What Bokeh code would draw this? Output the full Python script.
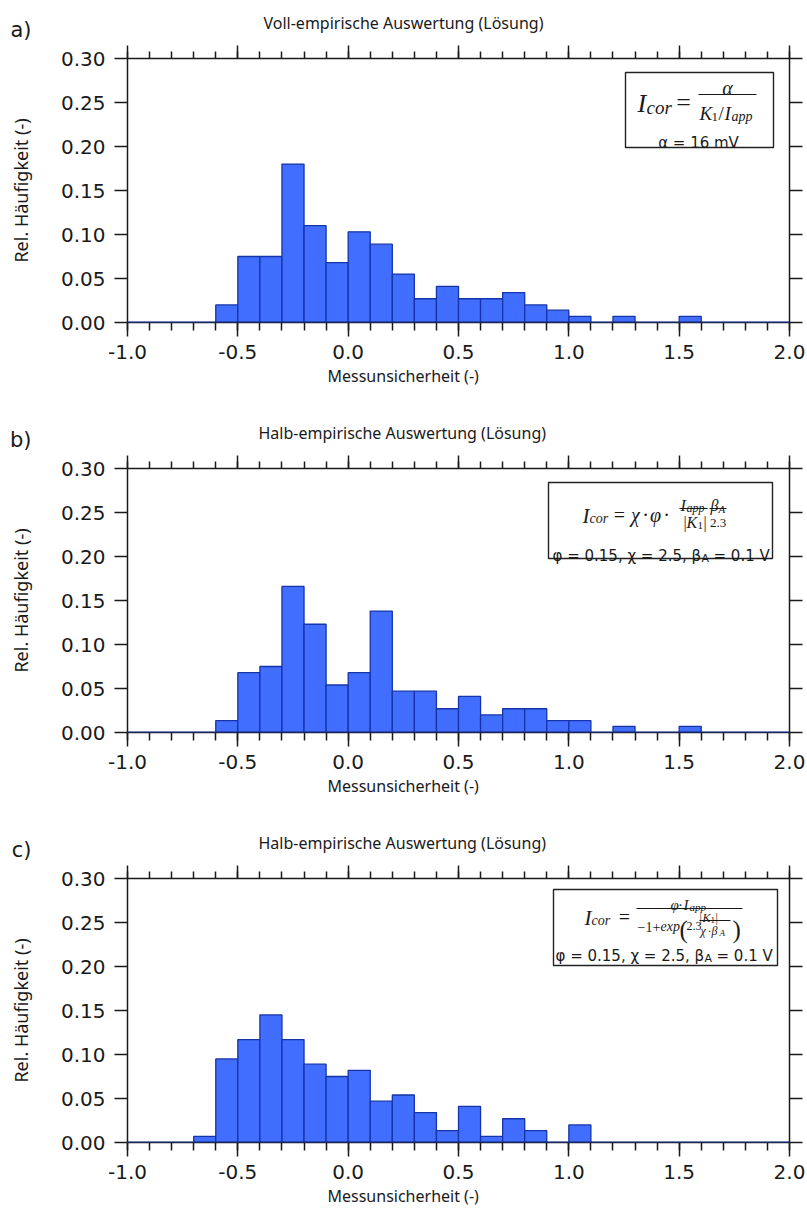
import numpy as np
from bokeh.plotting import figure
from bokeh.layouts import column, row
from bokeh.models import (LinearAxis, FixedTicker, NumeralTickFormatter, Title,
                          CustomJSTickFormatter, Label, BoxAnnotation, Span, Range1d)
from bokeh.embed import file_html
from bokeh.resources import INLINE

# ---- data: relative frequencies per 0.1-wide bin, bins start at -1.0 ----
bin_start = -1.0
bin_width = 0.1
freq_a = [0, 0, 0, 0,
          0.020, 0.075, 0.075, 0.180, 0.110, 0.068, 0.103, 0.089, 0.055, 0.027, 0.041,
          0.027, 0.027, 0.034, 0.020, 0.014, 0.007, 0, 0.007, 0, 0, 0.007,
          0, 0, 0, 0]
freq_b = [0, 0, 0, 0,
          0.0135, 0.068, 0.075, 0.166, 0.123, 0.054, 0.068, 0.138, 0.047, 0.047, 0.027,
          0.041, 0.020, 0.027, 0.027, 0.0135, 0.0135, 0, 0.007, 0, 0, 0.007,
          0, 0, 0, 0]
freq_c = [0, 0, 0,
          0.007, 0.095, 0.117, 0.145, 0.117, 0.089, 0.075, 0.082, 0.047, 0.054, 0.034,
          0.0135, 0.041, 0.007, 0.027, 0.0135, 0, 0.020,
          0, 0, 0, 0, 0, 0, 0, 0, 0]

panel_letters = ["a)", "b)", "c)"]
panel_titles = ["Voll-empirische Auswertung (Lösung)",
                "Halb-empirische Auswertung (Lösung)",
                "Halb-empirische Auswertung (Lösung)"]
x_label = "Messunsicherheit (-)"
y_label = "Rel. Häufigkeit (-)"
x_major = [-1.0, -0.5, 0.0, 0.5, 1.0, 1.5, 2.0]
x_minor = [round(-1.0 + 0.1 * i, 1) for i in range(31)]
y_major = [0.0, 0.05, 0.10, 0.15, 0.20, 0.25, 0.30]

# ---- page geometry (pixels) ----
W = 807
STRIP = 50                      # left strip holding the panel letter and y title
FL, FT, FW, FH = 127, 58, 662, 264
heights = [410, 410, 397]
X0, X1, Y0, Y1 = -1.0, 2.0, 0.0, 0.30
# left offsets (from the frame edge) that centre each text on the page
title_offsets = [136, 131, 131]
xlabel_offset = 200

FILL = "#426eff"
EDGE = "#1434a8"
INK = "#1a1a1a"


def to_x(px):
    return X0 + (px - FL) * (X1 - X0) / FW


def to_y(py):
    return Y1 - (py - FT) * (Y1 - Y0) / FH


def put(p, txt, X, Y, size, font="Liberation Serif", style="normal",
        align="left", baseline="alphabetic"):
    p.add_layout(Label(x=to_x(X), y=to_y(Y), text=txt, text_font=font,
                       text_font_size=f"{size}px", text_font_style=style,
                       text_align=align, text_baseline=baseline, text_color=INK))


def rule(p, xa, xb, y, t=1.2):
    p.add_layout(BoxAnnotation(left=to_x(xa), right=to_x(xb),
                               top=to_y(y - t / 2), bottom=to_y(y + t / 2),
                               fill_color=INK, fill_alpha=1.0, line_color=None))


def frame_box(p, xa, xb, ya, yb):
    p.add_layout(BoxAnnotation(left=to_x(xa), right=to_x(xb), top=to_y(ya), bottom=to_y(yb),
                               fill_color="white", fill_alpha=1.0,
                               line_color="#222222", line_alpha=1.0, line_width=1.4))


def make_strip(letter, height):
    # narrow canvas on the left: panel letter on top, rotated y title centred on the frame
    s = figure(width=STRIP, height=height, title=letter,
               x_range=Range1d(0, 1), y_range=Range1d(0, 1),
               output_backend="svg", toolbar_location=None,
               x_axis_type=None, y_axis_type=None,
               min_border_left=0, min_border_right=0,
               min_border_top=FT, min_border_bottom=height - FT - FH)
    s.outline_line_color = None
    s.grid.visible = False
    s.title.align = "right"
    s.title.offset = 19
    s.title.vertical_align = "top"
    s.title.standoff = 30
    s.title.text_font = "DejaVu Sans"
    s.title.text_font_size = "21px"
    s.title.text_font_style = "normal"
    s.title.text_color = INK
    s.add_layout(Title(text=y_label, align="center", vertical_align="middle", standoff=15,
                       text_font="Noto Sans", text_font_size="18px",
                       text_font_style="normal", text_color=INK), "left")
    return s


def make_panel(freq, title, t_off, height):
    p = figure(width=W - STRIP, height=height, x_range=Range1d(X0, X1), y_range=Range1d(Y0, Y1),
               output_backend="svg", toolbar_location=None,
               min_border_left=FL - STRIP, min_border_right=W - FL - FW,
               min_border_top=FT, min_border_bottom=height - FT - FH)
    p.outline_line_color = None
    p.xgrid.visible = False
    p.ygrid.visible = False

    p.title.text = title
    p.title.align = "left"
    p.title.offset = t_off
    p.title.vertical_align = "top"
    p.title.text_font = "Noto Sans"
    p.title.text_font_size = "16px"
    p.title.text_font_style = "normal"
    p.title.text_color = INK
    p.title.standoff = 20

    edges = np.round(bin_start + bin_width * np.arange(len(freq) + 1), 2)
    p.quad(left=edges[:-1], right=edges[1:], bottom=0, top=freq,
           fill_color=FILL, line_color=EDGE, line_width=1.3)
    p.add_layout(Span(location=0, dimension="width", line_color=EDGE, line_width=1.6))

    xb = p.xaxis[0]
    yl = p.yaxis[0]
    xt = LinearAxis()
    yr = LinearAxis()
    p.add_layout(xt, "above")
    p.add_layout(yr, "right")

    for ax in (xb, xt):
        ax.ticker = FixedTicker(ticks=x_major, minor_ticks=x_minor)
    for ax in (yl, yr):
        ax.ticker = FixedTicker(ticks=y_major, minor_ticks=[])
    xb.formatter = NumeralTickFormatter(format="0.0")
    yl.formatter = NumeralTickFormatter(format="0.00")

    for ax in (xb, xt, yl, yr):
        ax.axis_line_color = INK
        ax.axis_line_width = 1.5
        ax.major_tick_line_color = INK
        ax.major_tick_line_width = 1.5
        ax.minor_tick_line_color = INK
        ax.minor_tick_line_width = 1.5
        ax.major_tick_in = 0
        ax.minor_tick_in = 0
        ax.major_tick_out = 13
        ax.minor_tick_out = 7
        ax.major_label_text_font = "DejaVu Sans"
        ax.major_label_text_font_size = "20px"
        ax.major_label_text_color = INK
        ax.major_label_standoff = 9
    xb.major_tick_out = 14
    xb.minor_tick_out = 8
    xb.major_label_standoff = 8
    for ax in (xt, yr):
        ax.formatter = CustomJSTickFormatter(code="return ''")
        ax.major_label_text_font_size = "1px"
        ax.major_label_standoff = 0

    p.add_layout(Title(text=x_label, align="left", offset=xlabel_offset,
                       text_font="Noto Sans", text_font_size="16px",
                       text_font_style="normal", text_color=INK, standoff=2), "below")
    return p


pa = make_panel(freq_a, panel_titles[0], title_offsets[0], heights[0])
pb = make_panel(freq_b, panel_titles[1], title_offsets[1], heights[1])
pc = make_panel(freq_c, panel_titles[2], title_offsets[2], heights[2])
sa, sb, sc = (make_strip(l, h) for l, h in zip(panel_letters, heights))

SANS = "DejaVu Sans"

# formula box a): I_cor = alpha / (K1 / I_app)
frame_box(pa, 625, 773, 72, 147)
put(pa, "I", 637, 103, 26, style="italic")
put(pa, "cor", 646, 107, 19, style="italic")
put(pa, "=", 683, 102, 26, align="center")
rule(pa, 698, 756, 94)
put(pa, "α", 727, 87, 20, style="italic", align="center")
put(pa, "K", 699, 113, 19, style="italic")
put(pa, "1", 711, 116, 13)
put(pa, "/", 718, 113, 19)
put(pa, "I", 724, 113, 19, style="italic")
put(pa, "app", 731, 116, 14, style="italic")
put(pa, "α = 16 mV", 698, 142, 15, font=SANS, align="center")

# formula box b): I_cor = chi * phi * I_app/|K1| * beta_A/2.3
frame_box(pb, 548, 772, 72, 148)
put(pb, "I", 582, 105, 21, style="italic")
put(pb, "cor", 589, 108, 14, style="italic")
put(pb, "=", 619, 104, 20, align="center")
put(pb, "χ", 635, 104, 20, style="italic", align="center")
put(pb, "·", 645, 104, 20, align="center")
put(pb, "φ", 655, 104, 20, style="italic", align="center")
put(pb, "·", 666, 104, 20, align="center")
put(pb, "I", 680, 95, 16, style="italic")
put(pb, "app", 686, 97, 12, style="italic")
rule(pb, 679, 707, 98, 1.0)
put(pb, "|", 683, 112, 16)
put(pb, "K", 686, 112, 16, style="italic")
put(pb, "1", 697, 115, 11)
put(pb, "|", 703, 112, 16)
put(pb, "β", 710, 95, 16, style="italic")
put(pb, "A", 718, 98, 11, style="italic")
rule(pb, 709, 726, 98, 1.0)
put(pb, "2.3", 717.5, 112, 13, align="center")
put(pb, "φ = 0.15, χ = 2.5, β", 552, 145, 15, font=SANS)
put(pb, "A", 701, 148, 11, font=SANS)
put(pb, "= 0.1 V", 713, 145, 15, font=SANS)

# formula box c): I_cor = phi*I_app / (-1 + exp(2.3 |K1| / (chi*beta_A)))
frame_box(pc, 553, 777, 69, 145)
put(pc, "I", 584, 97, 21, style="italic")
put(pc, "cor", 591, 100, 14, style="italic")
put(pc, "=", 624, 96, 20, align="center")
rule(pc, 636, 742, 88, 1.0)
put(pc, "φ", 670, 84, 15, style="italic")
put(pc, "·", 680, 84, 15, align="center")
put(pc, "I", 683, 84, 15, style="italic")
put(pc, "app", 689, 86, 11, style="italic")
put(pc, "−1+", 637, 106, 14)
put(pc, "exp", 660, 106, 14, style="italic")
put(pc, "(", 679, 109, 25)
put(pc, "2.3", 686, 105, 12)
put(pc, "|", 699, 97, 12)
put(pc, "K", 702, 97, 12, style="italic")
put(pc, "1", 710, 99, 9)
put(pc, "|", 715, 97, 12)
rule(pc, 699, 730, 100, 0.9)
put(pc, "χ", 700, 110, 12, style="italic")
put(pc, "·", 709, 110, 12, align="center")
put(pc, "β", 711, 110, 12, style="italic")
put(pc, "A", 719, 112, 9, style="italic")
put(pc, ")", 732, 109, 25)
put(pc, "φ = 0.15, χ = 2.5, β", 555, 135, 15, font=SANS)
put(pc, "A", 704, 138, 11, font=SANS)
put(pc, "= 0.1 V", 716, 135, 15, font=SANS)

layout = column(row(sa, pa, spacing=0), row(sb, pb, spacing=0), row(sc, pc, spacing=0),
                spacing=0)
open("out.html", "w").write(file_html(layout, INLINE))
